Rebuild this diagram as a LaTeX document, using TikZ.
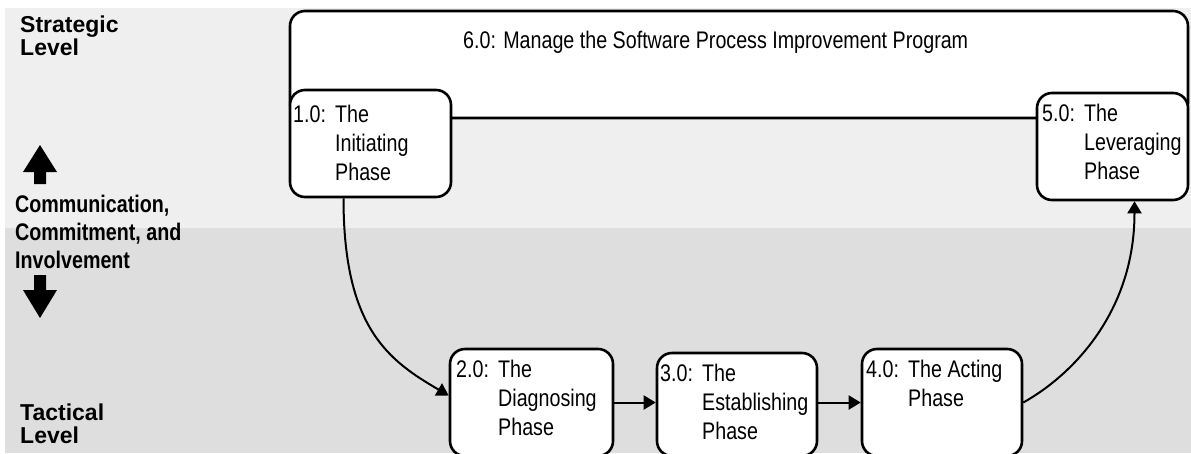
\documentclass[tikz,border=0pt]{standalone}
\usepackage{fontspec}
\setmainfont{Liberation Sans}
\newfontfamily\narrowfont[FakeStretch=0.82]{Liberation Sans}
\usetikzlibrary{arrows.meta,calc}
\definecolor{bandlight}{RGB}{239,239,239}
\definecolor{banddark}{RGB}{222,222,222}
\newcommand\phaselines[2]{\begin{tabular}[t]{@{}l@{}l@{}}\makebox[42pt][l]{#1}&#2\end{tabular}}
\newcommand\stacklines[1]{\begin{tabular}[t]{@{}l@{}}#1\end{tabular}}
\begin{document}
\begin{tikzpicture}[x=1pt,y=-1pt,
  phasebox/.style={draw, line width=2.6pt, rounded corners=15pt, fill=white, inner sep=0pt},
  boxtext/.style={anchor=base west, inner sep=0pt, font=\narrowfont\fontsize{24}{29}\selectfont},
  levellabel/.style={anchor=base west, inner sep=0pt, font=\bfseries\fontsize{23}{23}\selectfont},
  commlabel/.style={anchor=base west, inner sep=0pt, font=\narrowfont\bfseries\fontsize{24}{28}\selectfont},
  flow/.style={line width=2pt, -{Triangle[length=12pt,width=14pt]}},
  bigarrow/.style={fill=black}]
% background bands
\fill[white] (0,0) rectangle (1191,453);
\fill[bandlight] (5,8) rectangle (1191,228);
\fill[banddark] (5,228) rectangle (1191,453);
\useasboundingbox (0,0) rectangle (1191,453);

% level labels
\node[levellabel] (strat) at (20,32) {\stacklines{Strategic\\Level}};
\node[levellabel] (tact) at (20,420) {\stacklines{Tactical\\Level}};
\node[commlabel] (comm) at (15,212) {\stacklines{Communication,\\Commitment, and\\Involvement}};
\fill[bigarrow] (40,145) -- (57,172) -- (46,172) -- (46,184) -- (34,184) -- (34,172) -- (23,172) -- cycle;
\fill[bigarrow] (40,318) -- (57,290) -- (46,290) -- (46,275) -- (34,275) -- (34,290) -- (23,290) -- cycle;

% program box
\node[phasebox, minimum width=898pt, minimum height=107pt] (b6) at (739,64.5) {};
\node[boxtext] (t6) at (463,48) {6.0: Manage the Software Process Improvement Program};

% phase boxes
\node[phasebox, minimum width=161pt, minimum height=107pt] (p1) at (370.5,143.5) {};
\node[boxtext] (t1) at (293,122) {\phaselines{1.0:}{The\\&Initiating\\&Phase}};
\node[phasebox, minimum width=151pt, minimum height=107pt] (p5) at (1112.5,146.5) {};
\node[boxtext] (t5) at (1042,121) {\phaselines{5.0:}{The\\&Leveraging\\&Phase}};
\node[phasebox, minimum width=163pt, minimum height=107pt] (p2) at (531.5,402.5) {};
\node[boxtext] (t2) at (456,377) {\phaselines{2.0:}{The\\&Diagnosing\\&Phase}};
\node[phasebox, minimum width=160pt, minimum height=103pt] (p3) at (737,404.5) {};
\node[boxtext] (t3) at (660,381) {\phaselines{3.0:}{The\\&Establishing\\&Phase}};
\node[phasebox, minimum width=160pt, minimum height=107pt] (p4) at (942,402.5) {};
\node[boxtext] (t4) at (866,377) {\phaselines{4.0:}{The Acting\\&Phase}};

% connectors
\draw[flow] ($(p1.south)+(-27,0)$) .. controls +(0,130) and +(-60,-35) .. ($(p2.west)+(0,-7)$);
\draw[flow] (p2.east) -- (p2.east -| p3.west);
\draw[flow] (p3.east |- p4.west) -- (p4.west);
\draw[flow] (p4.east) .. controls +(50,-28) and +(0,110) .. ($(p5.south)+(22,0)$);
\end{tikzpicture}
\end{document}
